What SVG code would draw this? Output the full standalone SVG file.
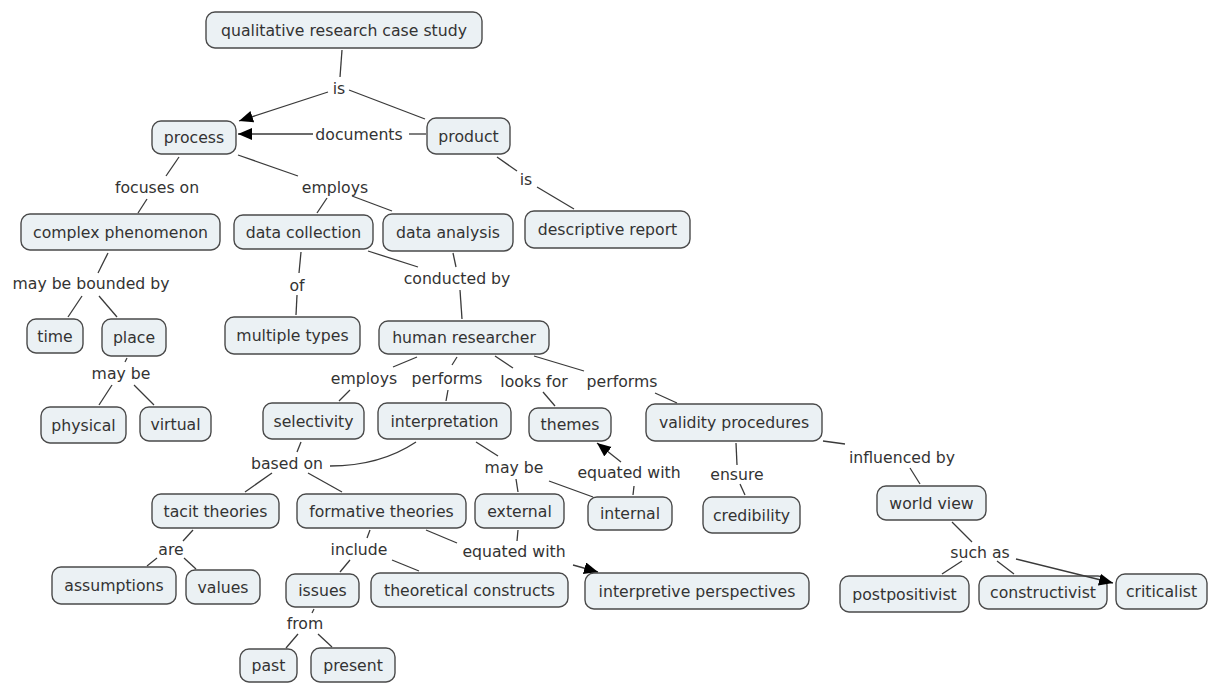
<svg xmlns="http://www.w3.org/2000/svg" width="1212" height="684" viewBox="0 0 1212 684">
<style>
.n rect{fill:#ebf1f4;stroke:#4a4a4a;stroke-width:1.4}
text{font-family:"DejaVu Sans","Verdana",sans-serif;font-size:15.7px;fill:#333;text-anchor:middle}
.c line,.c path{stroke:#3a3a3a;stroke-width:1.3;fill:none}
</style>
<defs>
<marker id="ah" markerUnits="userSpaceOnUse" markerWidth="16" markerHeight="14" refX="14" refY="6" orient="auto">
<path d="M0,0 L14,6 L0,12 Z" fill="#000"/>
</marker>
</defs>
<rect width="1212" height="684" fill="#fff"/>
<g id="labels">
<text x="339" y="93.5">is</text>
<text x="359" y="139.5">documents</text>
<text x="157" y="192.5">focuses on</text>
<text x="335" y="192.5">employs</text>
<text x="526" y="184.5">is</text>
<text x="457" y="283.5">conducted by</text>
<text x="91" y="288.5">may be bounded by</text>
<text x="297" y="290.5">of</text>
<text x="121" y="378.5">may be</text>
<text x="364" y="383.5">employs</text>
<text x="447" y="383.5">performs</text>
<text x="534" y="386.5">looks for</text>
<text x="622" y="386.5">performs</text>
<text x="287" y="468.5">based on</text>
<text x="514" y="472.5">may be</text>
<text x="629" y="477.5">equated with</text>
<text x="737" y="479.5">ensure</text>
<text x="902" y="462.5">influenced by</text>
<text x="980" y="557.5">such as</text>
<text x="171" y="554.5">are</text>
<text x="359" y="554.5">include</text>
<text x="514" y="556.5">equated with</text>
<text x="305" y="628.5">from</text>
</g>
<g id="n1" class="n"><rect x="206" y="12" width="276" height="36" rx="9"/><text x="344" y="35.5">qualitative research case study</text></g>
<g id="n2" class="n"><rect x="152" y="121" width="84" height="33" rx="9"/><text x="194" y="143">process</text></g>
<g id="n3" class="n"><rect x="427" y="118" width="83" height="36" rx="9"/><text x="468.5" y="141.5">product</text></g>
<g id="n4" class="n"><rect x="525" y="211" width="165" height="37" rx="9"/><text x="607.5" y="235">descriptive report</text></g>
<g id="n5" class="n"><rect x="21" y="214" width="199" height="36" rx="9"/><text x="120.5" y="237.5">complex phenomenon</text></g>
<g id="n6" class="n"><rect x="234" y="215" width="139" height="34" rx="9"/><text x="303.5" y="237.5">data collection</text></g>
<g id="n7" class="n"><rect x="383" y="214" width="130" height="37" rx="9"/><text x="448" y="238">data analysis</text></g>
<g id="n8" class="n"><rect x="27" y="319" width="56" height="34" rx="9"/><text x="55" y="341.5">time</text></g>
<g id="n9" class="n"><rect x="102" y="319" width="64" height="37" rx="9"/><text x="134" y="343">place</text></g>
<g id="n10" class="n"><rect x="225" y="317" width="135" height="37" rx="9"/><text x="292.5" y="341">multiple types</text></g>
<g id="n11" class="n"><rect x="379" y="321" width="170" height="33" rx="9"/><text x="464" y="343">human researcher</text></g>
<g id="n12" class="n"><rect x="41" y="407" width="85" height="36" rx="9"/><text x="83.5" y="430.5">physical</text></g>
<g id="n13" class="n"><rect x="140" y="407" width="71" height="34" rx="9"/><text x="175.5" y="429.5">virtual</text></g>
<g id="n14" class="n"><rect x="263" y="403" width="101" height="36" rx="9"/><text x="313.5" y="426.5">selectivity</text></g>
<g id="n15" class="n"><rect x="378" y="403" width="133" height="36" rx="9"/><text x="444.5" y="426.5">interpretation</text></g>
<g id="n16" class="n"><rect x="529" y="408" width="82" height="33" rx="9"/><text x="570" y="430">themes</text></g>
<g id="n17" class="n"><rect x="646" y="404" width="176" height="37" rx="9"/><text x="734" y="428">validity procedures</text></g>
<g id="n18" class="n"><rect x="152" y="494" width="127" height="34" rx="9"/><text x="215.5" y="516.5">tacit theories</text></g>
<g id="n19" class="n"><rect x="297" y="494" width="169" height="34" rx="9"/><text x="381.5" y="516.5">formative theories</text></g>
<g id="n20" class="n"><rect x="475" y="494" width="89" height="34" rx="9"/><text x="519.5" y="516.5">external</text></g>
<g id="n21" class="n"><rect x="588" y="497" width="84" height="33" rx="9"/><text x="630" y="519">internal</text></g>
<g id="n22" class="n"><rect x="703" y="497" width="97" height="36" rx="9"/><text x="751.5" y="520.5">credibility</text></g>
<g id="n23" class="n"><rect x="877" y="486" width="109" height="34" rx="9"/><text x="931.5" y="508.5">world view</text></g>
<g id="n24" class="n"><rect x="52" y="567" width="124" height="37" rx="9"/><text x="114" y="591">assumptions</text></g>
<g id="n25" class="n"><rect x="186" y="570" width="74" height="34" rx="9"/><text x="223" y="592.5">values</text></g>
<g id="n26" class="n"><rect x="286" y="574" width="73" height="33" rx="9"/><text x="322.5" y="596">issues</text></g>
<g id="n27" class="n"><rect x="371" y="573" width="197" height="34" rx="9"/><text x="469.5" y="595.5">theoretical constructs</text></g>
<g id="n28" class="n"><rect x="585" y="573" width="224" height="36" rx="9"/><text x="697" y="596.5">interpretive perspectives</text></g>
<g id="n29" class="n"><rect x="840" y="576" width="129" height="36" rx="9"/><text x="904.5" y="599.5">postpositivist</text></g>
<g id="n30" class="n"><rect x="979" y="576" width="128" height="33" rx="9"/><text x="1043" y="598">constructivist</text></g>
<g id="n31" class="n"><rect x="1116" y="574" width="91" height="35" rx="9"/><text x="1161.5" y="597">criticalist</text></g>
<g id="n32" class="n"><rect x="240" y="649" width="57" height="33" rx="9"/><text x="268.5" y="671">past</text></g>
<g id="n33" class="n"><rect x="311" y="648" width="84" height="34" rx="9"/><text x="353" y="670.5">present</text></g>
<g id="connectors" class="c">
<line x1="342" y1="50" x2="340" y2="77"/>
<line x1="328" y1="92" x2="239" y2="121" marker-end="url(#ah)"/>
<line x1="349" y1="90" x2="425" y2="119"/>
<line x1="409" y1="134" x2="426" y2="134"/>
<line x1="313" y1="134" x2="238" y2="134" marker-end="url(#ah)"/>
<line x1="179" y1="157" x2="166" y2="176"/>
<line x1="147" y1="199" x2="138" y2="213"/>
<line x1="238" y1="155" x2="298" y2="176"/>
<line x1="327" y1="198" x2="317" y2="213"/>
<line x1="352" y1="196" x2="392" y2="211"/>
<line x1="497" y1="157" x2="517" y2="171"/>
<line x1="537" y1="187" x2="574" y2="209"/>
<line x1="108" y1="253" x2="98" y2="273"/>
<line x1="82" y1="296" x2="68" y2="317"/>
<line x1="99" y1="296" x2="117" y2="317"/>
<line x1="301" y1="252" x2="299" y2="273"/>
<line x1="297" y1="295" x2="296" y2="315"/>
<line x1="368" y1="251" x2="418" y2="267"/>
<line x1="453" y1="253" x2="456" y2="267"/>
<line x1="460" y1="290" x2="462" y2="319"/>
<line x1="127" y1="358" x2="125" y2="362"/>
<line x1="112" y1="385" x2="99" y2="405"/>
<line x1="134" y1="385" x2="154" y2="405"/>
<line x1="417" y1="357" x2="393" y2="367"/>
<line x1="350" y1="390" x2="339" y2="401"/>
<line x1="457" y1="357" x2="452" y2="365"/>
<line x1="448" y1="390" x2="446" y2="401"/>
<line x1="495" y1="356" x2="513" y2="368"/>
<line x1="543" y1="392" x2="555" y2="406"/>
<line x1="534" y1="356" x2="584" y2="371"/>
<line x1="655" y1="393" x2="677" y2="403"/>
<line x1="301" y1="442" x2="297" y2="452"/>
<path d="M416,442 Q380,466 330,466"/>
<line x1="272" y1="473" x2="245" y2="492"/>
<line x1="308" y1="473" x2="342" y2="492"/>
<line x1="476" y1="442" x2="498" y2="456"/>
<line x1="516" y1="479" x2="518" y2="492"/>
<line x1="549" y1="481" x2="593" y2="497"/>
<line x1="633" y1="495" x2="634" y2="486"/>
<line x1="621" y1="462" x2="597" y2="443" marker-end="url(#ah)"/>
<line x1="736" y1="443" x2="737" y2="465"/>
<line x1="740" y1="484" x2="745" y2="495"/>
<line x1="823" y1="441" x2="845" y2="444"/>
<line x1="910" y1="468" x2="920" y2="484"/>
<line x1="952" y1="522" x2="972" y2="542"/>
<line x1="962" y1="561" x2="942" y2="574"/>
<line x1="997" y1="561" x2="1014" y2="574"/>
<line x1="1016" y1="559" x2="1113" y2="583" marker-end="url(#ah)"/>
<line x1="370" y1="530" x2="367" y2="538"/>
<line x1="350" y1="560" x2="340" y2="572"/>
<line x1="392" y1="560" x2="419" y2="571"/>
<line x1="426" y1="530" x2="457" y2="543"/>
<line x1="573" y1="565" x2="598" y2="572" marker-end="url(#ah)"/>
<line x1="518" y1="530" x2="517" y2="541"/>
<line x1="193" y1="530" x2="183" y2="541"/>
<line x1="157" y1="558" x2="147" y2="566"/>
<line x1="184" y1="558" x2="196" y2="569"/>
<line x1="314" y1="609" x2="312" y2="613"/>
<line x1="298" y1="634" x2="286" y2="648"/>
<line x1="318" y1="634" x2="332" y2="647"/>
</g>
</svg>
